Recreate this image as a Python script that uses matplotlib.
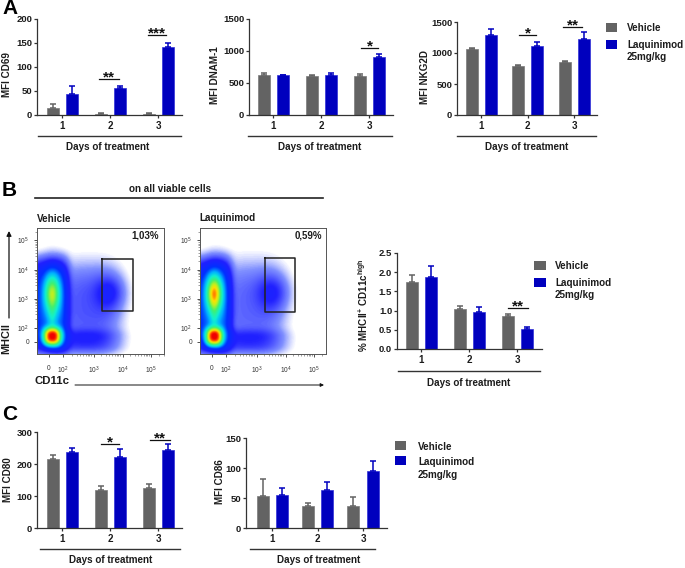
# -*- coding: utf-8 -*-
"""
plot.py - Laquinimod figure: MFI bars (A, C) and flow cytometry panels (B).
Layout numbers are pixels of the 685x568 figure, y counted from the top.
"""
import numpy as np
import matplotlib
matplotlib.use('Agg')
import matplotlib.pyplot as plt
from matplotlib.colors import LinearSegmentedColormap

plt.rcParams['font.family'] = ['Liberation Sans', 'DejaVu Sans']
plt.rcParams['mathtext.fontset'] = 'custom'
plt.rcParams['mathtext.rm'] = 'Liberation Sans'
plt.rcParams['mathtext.bf'] = 'Liberation Sans:bold'

W, H = 685, 568

COLOR_VEH = '#636363'
COLOR_LAQ = '#0000BE'
TEXT = '#1c1c1c'

DAYS = ['1', '2', '3']

# Values
CD69_VEH = [15, 3, 3]
CD69_VEH_ERR = [8, 1, 1]
CD69_LAQ = [44, 57, 142]
CD69_LAQ_ERR = [17, 4, 8]

DNAM_VEH = [630, 615, 610]
DNAM_VEH_ERR = [30, 8, 30]
DNAM_LAQ = [620, 625, 905]
DNAM_LAQ_ERR = [6, 25, 55]

NKG2D_VEH = [1070, 790, 860]
NKG2D_VEH_ERR = [8, 10, 8]
NKG2D_LAQ = [1285, 1110, 1230]
NKG2D_LAQ_ERR = [95, 60, 110]

MHCII_VEH = [1.75, 1.03, 0.86]
MHCII_VEH_ERR = [0.18, 0.08, 0.05]
MHCII_LAQ = [1.88, 0.97, 0.51]
MHCII_LAQ_ERR = [0.29, 0.13, 0.06]

CD80_VEH = [217, 119, 124]
CD80_VEH_ERR = [11, 13, 12]
CD80_LAQ = [237, 223, 245]
CD80_LAQ_ERR = [12, 24, 16]

CD86_VEH = [53, 37, 36]
CD86_VEH_ERR = [29, 5, 15]
CD86_LAQ = [55, 64, 95]
CD86_LAQ_ERR = [11, 12, 17]

# Flow density patches: peak, x, y, x spread, y spread, edge sharpness (px in the plot box)
VEH_PATCHES = [
    (0.20, 10, 78, 21, 46, 5),
    (0.10, 14, 72, 11, 34, 2),
    (0.09, 52, 78, 33, 44, 3),
    (0.07, 45, 114, 38, 12, 3),
    (0.07, 74, 65, 15, 17, 2),
    (0.36, 15, 66, 7, 17, 2),
    (0.08, 15, 90, 4, 14, 2),
    (0.75, 15, 109, 8.5, 8.5, 2.5),
]
LAQ_PATCHES = [
    (0.20, 10, 78, 21, 46, 5),
    (0.12, 14, 72, 11, 34, 2),
    (0.08, 52, 78, 34, 46, 3),
    (0.07, 45, 114, 40, 12, 3),
    (0.07, 74, 65, 16, 18, 2),
    (0.52, 14, 66, 7, 16, 2),
    (0.08, 14, 90, 4, 14, 2),
    (0.75, 14, 109, 8, 8.5, 2.5),
]

JET_WHITE = LinearSegmentedColormap.from_list('flow', [
    (0.0, '#ffffff'), (0.012, '#ffffff'), (0.05, '#8090ff'), (0.12, '#2020ff'),
    (0.22, '#0030ff'), (0.32, '#00b0ff'), (0.42, '#10f0d0'), (0.55, '#40f070'),
    (0.68, '#c0f020'), (0.78, '#ffe000'), (0.90, '#ff5000'), (1.0, '#f00000')])


def px_axes(fig, left, top, right, bottom):
    return fig.add_axes([left / W, 1 - bottom / H, (right - left) / W, (bottom - top) / H])


def bar_panel(fig, box, ymax, yticks, centers, veh, veh_err, laq, laq_err, ylabel,
              ylabel_x, ticklabels=None, ylabel_y=None):
    left, top, right, bottom = box
    ax = px_axes(fig, left, top, right, bottom)
    # x scale is set so days 1 and 3 land on their tick pixels
    step = (centers[2] - centers[0]) / 2
    ax.set_xlim(1 + (left - centers[0]) / step, 1 + (right - centers[0]) / step)
    ax.set_ylim(0, ymax)
    pos = np.arange(1, 4)
    offs = 9.5 / step
    wid = 12 / step
    ax.bar(pos - offs, veh, wid, color=COLOR_VEH, edgecolor='#7a7a7a', linewidth=0.5,
           yerr=[[0] * 3, veh_err], ecolor=COLOR_VEH,
           error_kw=dict(capsize=2.4, capthick=1.1, elinewidth=1.1))
    ax.bar(pos + offs, laq, wid, color=COLOR_LAQ, edgecolor='#3030d8', linewidth=0.5,
           yerr=[[0] * 3, laq_err], ecolor=COLOR_LAQ,
           error_kw=dict(capsize=2.4, capthick=1.1, elinewidth=1.1))
    for s in ['top', 'right']:
        ax.spines[s].set_visible(False)
    for s in ['left', 'bottom']:
        ax.spines[s].set_linewidth(0.9)
        ax.spines[s].set_color('#333333')
    ax.set_xticks(pos)
    ax.set_xticklabels(DAYS, fontweight='bold', fontsize=7.0, color=TEXT)
    ax.set_yticks(yticks)
    ax.set_yticklabels(ticklabels if ticklabels else [str(t) for t in yticks],
                       fontweight='bold', fontsize=6.8, color=TEXT)
    ax.tick_params(axis='both', length=2.5, width=0.9, pad=1, color='#333333')
    ax.tick_params(axis='x', pad=2)
    yc = ylabel_y if ylabel_y else (top + bottom) / 2
    fig.text(ylabel_x / W, 1 - yc / H, ylabel, rotation=90, ha='center',
             va='center', fontsize=7.1, fontweight='bold', color=TEXT)
    return ax


def flow_density(patches, nx=254, ny=252):
    x = np.linspace(0, 127, nx)
    y = np.linspace(0, 126, ny)
    xx, yy = np.meshgrid(x, y)
    z = np.zeros_like(xx)
    for peak, cx, cy, sx, sy, p in patches:
        z += peak * np.exp(-(np.abs((xx - cx) / sx) ** p + np.abs((yy - cy) / sy) ** p))
    return np.clip(z, 0, 1)


def flow_panel(fig, box, patches, gate):
    left, top, right, bottom = box
    ax = px_axes(fig, left, top, right, bottom)
    ax.imshow(flow_density(patches), cmap=JET_WHITE, vmin=0, vmax=1, origin='upper',
              extent=[0, right - left, bottom - top, 0], aspect='auto', interpolation='bilinear')
    gx0, gy0, gx1, gy1 = gate
    ax.plot([gx0, gx1, gx1, gx0, gx0], [gy0, gy0, gy1, gy1, gy0], color='#222222', lw=1.1)
    ax.set_xlim(0, right - left)
    ax.set_ylim(bottom - top, 0)
    for s in ax.spines.values():
        s.set_linewidth(0.7)
        s.set_color('#555555')
    # biexponential axis: zero, then decades 29 px wide
    xpos = [12, 26, 57, 86, 114]
    ypos = [114, 100, 71, 42, 12]
    labels = ['0', '$10^2$', '$10^3$', '$10^4$', '$10^5$']
    xminor = [xpos[1] + 29 * d + 29 * np.log10(m) for d in range(4) for m in range(2, 10)]
    yminor = [ypos[1] - 29 * d - 29 * np.log10(m) for d in range(4) for m in range(2, 10)]
    ax.set_xticks(xpos)
    ax.set_xticklabels(labels, fontsize=4.8, color='#333333')
    ax.set_yticks(ypos)
    ax.set_yticklabels(labels, fontsize=4.8, color='#333333')
    ax.set_xticks([v for v in xminor if v < right - left], minor=True)
    ax.set_yticks([v for v in yminor if v > 0], minor=True)
    ax.tick_params(which='major', length=2.2, width=0.6, pad=3.5, color='#333333')
    ax.tick_params(axis='x', which='major', pad=5.5)
    ax.tick_params(which='minor', length=1.2, width=0.4, color='#555555')
    return ax


def legend(lay, x_box, x_text, y_veh, y_laq, y_dose, x_box_w=11, dy=0.5):
    lay.fill([x_box, x_box + x_box_w, x_box + x_box_w, x_box],
             [y_veh - 4.5, y_veh - 4.5, y_veh + 4.5, y_veh + 4.5], color=COLOR_VEH, lw=0)
    lay.fill([x_box, x_box + x_box_w, x_box + x_box_w, x_box],
             [y_laq - 4.5, y_laq - 4.5, y_laq + 4.5, y_laq + 4.5], color=COLOR_LAQ, lw=0)
    lay.text(x_text, y_veh + dy, 'Vehicle', **BOLD)
    lay.text(x_text, y_laq + dy, 'Laquinimod', **BOLD)
    lay.text(x_text, y_dose, '25mg/kg', **BOLD)


def sig(lay, x0, x1, y, stars):
    lay.plot([x0, x1], [y, y], color='#111111', lw=0.9)
    lay.text((x0 + x1) / 2, y - 2, stars, ha='center', va='center', fontsize=11,
             fontweight='bold', color='#111111')


def days_rule(lay, x0, x1, y_line, x_text, y_text):
    lay.plot([x0, x1], [y_line, y_line], color='#333333', lw=1.0)
    lay.text(x_text, y_text, 'Days of treatment', ha='center', va='center', fontsize=7.1,
             fontweight='bold', color=TEXT)


BOLD = dict(ha='left', va='center', fontsize=7.1, fontweight='bold', color=TEXT)


def main():
    fig = plt.figure(figsize=(W / 100, H / 100), dpi=100)

    # ── A ──
    bar_panel(fig, (37, 19, 182, 115), 200, [0, 50, 100, 150, 200], [62, 110, 158],
              CD69_VEH, CD69_VEH_ERR, CD69_LAQ, CD69_LAQ_ERR, 'MFI CD69', 7, ylabel_y=75)
    bar_panel(fig, (249, 19, 393, 115), 1500, [0, 500, 1000, 1500], [273, 321, 369],
              DNAM_VEH, DNAM_VEH_ERR, DNAM_LAQ, DNAM_LAQ_ERR, 'MFI DNAM-1', 215, ylabel_y=75)
    bar_panel(fig, (457, 22, 597, 115), 1500, [0, 500, 1000, 1500], [481, 528, 574],
              NKG2D_VEH, NKG2D_VEH_ERR, NKG2D_LAQ, NKG2D_LAQ_ERR, 'MFI NKG2D', 425, ylabel_y=77)

    # ── B ──
    flow_panel(fig, (37, 228, 164, 354), VEH_PATCHES, (65, 31, 96, 83))
    flow_panel(fig, (200, 228, 326, 354), LAQ_PATCHES, (65, 30, 95, 84))
    bar_panel(fig, (397, 253, 542, 349), 2.5, [0, 0.5, 1.0, 1.5, 2.0, 2.5], [421, 469, 517],
              MHCII_VEH, MHCII_VEH_ERR, MHCII_LAQ, MHCII_LAQ_ERR,
              '% MHCII$^{\\mathbf{+}}$ CD11c$^{\\mathbf{high}}$', 363,
              ticklabels=['0.0', '0.5', '1.0', '1.5', '2.0', '2.5'], ylabel_y=305)

    # ── C ──
    bar_panel(fig, (37, 432, 182, 528), 300, [0, 100, 200, 300], [62, 110, 158],
              CD80_VEH, CD80_VEH_ERR, CD80_LAQ, CD80_LAQ_ERR, 'MFI CD80', 8)
    bar_panel(fig, (246, 438, 387, 528), 150, [0, 50, 100, 150], [272, 318, 363],
              CD86_VEH, CD86_VEH_ERR, CD86_LAQ, CD86_LAQ_ERR, 'MFI CD86', 220, ylabel_y=482)

    # Overlay for labels, rules and arrows, in figure pixels
    lay = fig.add_axes([0, 0, 1, 1], zorder=10)
    lay.set_xlim(0, W)
    lay.set_ylim(H, 0)
    lay.axis('off')
    lay.patch.set_alpha(0)

    for letter, y in [('A', 9), ('B', 190), ('C', 415)]:
        lay.text(2, y, letter, ha='left', va='center', fontsize=15, fontweight='bold',
                 color='#000000')

    days_rule(lay, 38, 181, 136, 108, 147)
    days_rule(lay, 248, 392, 136, 320, 147)
    days_rule(lay, 457, 596, 136, 527, 147)
    days_rule(lay, 398, 540, 371, 469, 383)
    days_rule(lay, 40, 180, 549, 111, 560)
    days_rule(lay, 250, 375, 549, 319, 560)

    sig(lay, 99, 119, 79, '**')
    sig(lay, 148, 166, 35, '***')
    sig(lay, 361, 378, 48, '*')
    sig(lay, 519, 536, 35, '*')
    sig(lay, 563, 582, 27, '**')
    sig(lay, 508, 528, 308, '**')
    sig(lay, 101, 119, 444, '*')
    sig(lay, 150, 170, 440, '**')

    legend(lay, 606, 627, 27.5, 44, 57)
    legend(lay, 534, 555, 265.5, 282, 295, x_box_w=12)
    legend(lay, 395, 418, 445, 460, 475, dy=2)

    lay.text(170, 189, 'on all viable cells', ha='center', va='center', fontsize=7.1,
             fontweight='bold', color=TEXT)
    lay.plot([35, 323], [198, 198], color='#222222', lw=1.2)
    lay.text(37, 219, 'Vehicle', **BOLD)
    lay.text(199, 218, 'Laquinimod', **BOLD)
    lay.text(159, 236, '1,03%', ha='right', va='center', fontsize=7, fontweight='bold', color=TEXT)
    lay.text(322, 236, '0,59%', ha='right', va='center', fontsize=7, fontweight='bold', color=TEXT)
    lay.text(6, 339, 'MHCII', rotation=90, ha='center', va='center', fontsize=7.8,
             fontweight='bold', color=TEXT)
    lay.text(35, 381, 'CD11c', ha='left', va='center', fontsize=8.2, fontweight='bold', color=TEXT)
    lay.annotate('', xy=(9, 231), xytext=(9, 318),
                 arrowprops=dict(arrowstyle='-|>', color='#111111', lw=0.9, mutation_scale=7,
                                 shrinkA=0, shrinkB=0))
    lay.annotate('', xy=(324, 385), xytext=(75, 385),
                 arrowprops=dict(arrowstyle='-|>', color='#111111', lw=0.7, mutation_scale=5,
                                 shrinkA=0, shrinkB=0))

    fig.savefig('out.png', dpi=100)


if __name__ == "__main__":
    main()
